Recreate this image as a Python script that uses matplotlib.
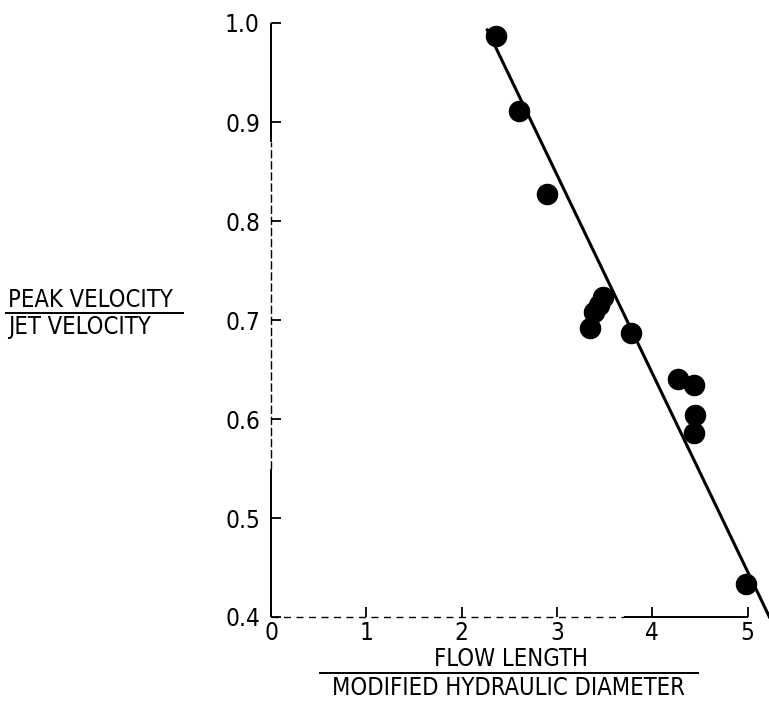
import matplotlib
matplotlib.use("Agg")
import matplotlib.pyplot as plt
from matplotlib.lines import Line2D

plt.rcParams["font.family"] = ["DejaVu Sans"]
plt.rcParams["font.stretch"] = "condensed"

# Measured data: flow length / modified hydraulic diameter vs peak/jet velocity
flow_ratio = [2.36, 2.60, 2.90, 3.35, 3.39, 3.44, 3.48, 3.78, 4.27, 4.44, 4.45, 4.44, 4.98]
velocity_ratio = [0.987, 0.911, 0.827, 0.692, 0.708, 0.715, 0.723, 0.687, 0.640, 0.634, 0.604, 0.586, 0.433]

# Straight-line correlation through the data
fit_x = [2.27, 5.23]
fit_y = [0.993, 0.400]

x_ticks = [0, 1, 2, 3, 4, 5]
y_ticks = [0.4, 0.5, 0.6, 0.7, 0.8, 0.9, 1.0]

W, H = 769, 704
fig = plt.figure(figsize=(W / 100, H / 100), dpi=100)
ax = fig.add_axes([271 / W, (H - 617) / H, (747.5 - 271) / W, (617 - 23) / H])
ax.set_xlim(0, 5)
ax.set_ylim(0.4, 1.0)

for s in ax.spines.values():
    s.set_visible(False)

# Hand-drawn style axis lines: partly broken, partly solid
axis_kw = dict(color="black", clip_on=False, solid_capstyle="butt")
ax.plot([0, 0], [0.88, 1.0], lw=1.4, **axis_kw)
ax.plot([0, 0], [0.55, 0.88], lw=1.0, linestyle=(0, (6, 2)), **axis_kw)
ax.plot([0, 0], [0.4, 0.55], lw=1.4, **axis_kw)
ax.plot([0, 3.7], [0.4, 0.4], lw=1.0, linestyle=(0, (5, 4)), **axis_kw)
ax.plot([3.7, 5], [0.4, 0.4], lw=1.4, **axis_kw)

ax.set_xticks(x_ticks)
ax.set_xticklabels([str(v) for v in x_ticks])
ax.set_yticks(y_ticks)
ax.set_yticklabels([f"{v:.1f}" for v in y_ticks])
ax.tick_params(axis="both", direction="in", length=7, width=1.3,
               labelsize=17.5, color="black")
ax.tick_params(axis="y", pad=8)
ax.tick_params(axis="x", pad=3)

ax.plot(fit_x, fit_y, color="black", lw=2.2, clip_on=False, zorder=2)
ax.plot(flow_ratio, velocity_ratio, "o", color="black", ms=14.5,
        clip_on=False, zorder=3)

# Axis titles written as fractions
fs = 17
fig.text(8 / W, 1 - 300 / H, "PEAK VELOCITY", ha="left", va="center", fontsize=fs)
fig.text(8 / W, 1 - 327 / H, "JET VELOCITY", ha="left", va="center", fontsize=fs)
fig.add_artist(Line2D([6 / W, 183 / W], [1 - 313 / H] * 2, color="black", lw=1.4))

fig.text(511 / W, 1 - 659 / H, "FLOW LENGTH", ha="center", va="center", fontsize=fs)
fig.text(508 / W, 1 - 688 / H, "MODIFIED HYDRAULIC DIAMETER", ha="center",
         va="center", fontsize=fs)
fig.add_artist(Line2D([320 / W, 698 / W], [1 - 673 / H] * 2, color="black", lw=1.4))

fig.savefig("out.png", dpi=100, facecolor="white")
